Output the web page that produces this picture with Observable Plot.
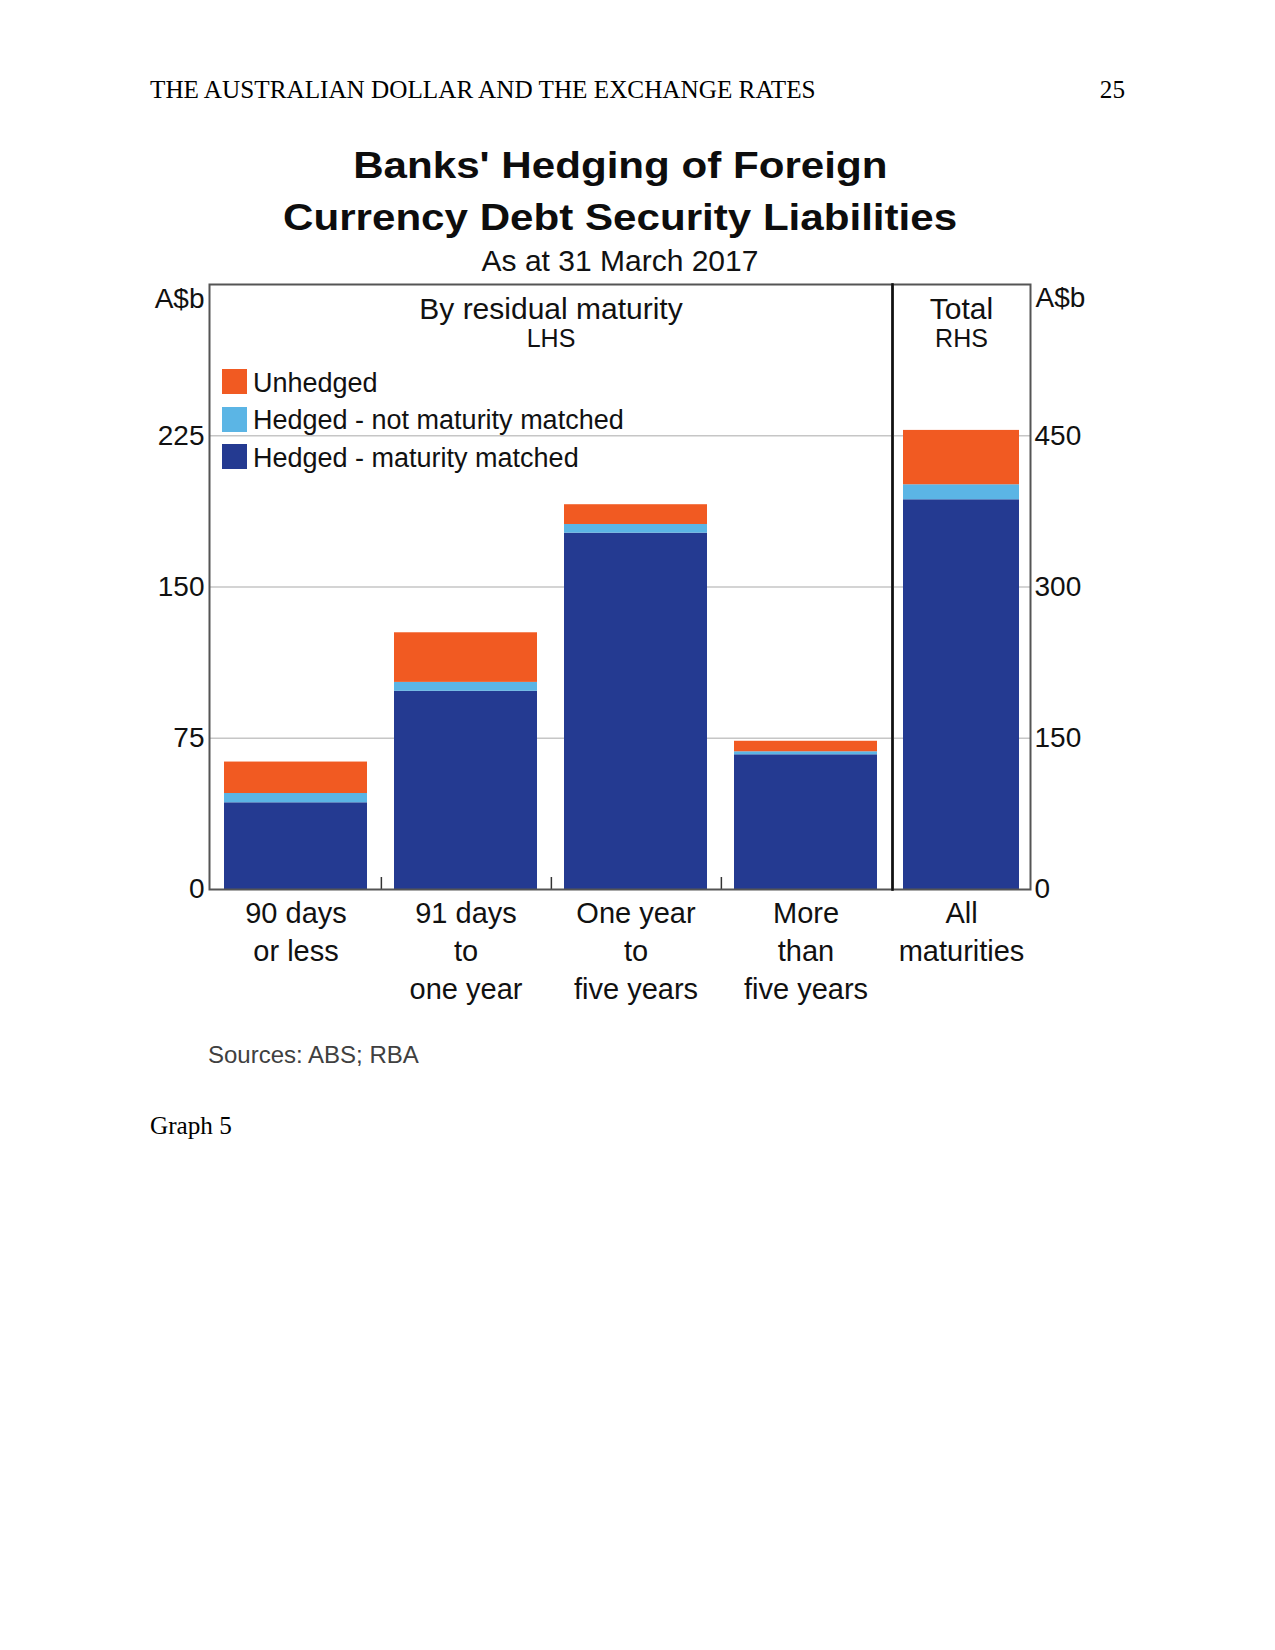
<!DOCTYPE html>
<html>
<head>
<meta charset="utf-8">
<script src="https://cdn.jsdelivr.net/npm/d3@7"></script>
<script src="https://cdn.jsdelivr.net/npm/@observablehq/plot@0.6"></script>
<style>
  html, body { margin: 0; padding: 0; background: #fff; }
  #page { position: relative; width: 1275px; height: 1650px; background: #fff; overflow: hidden; }
  .abs { position: absolute; white-space: nowrap; }
  .serif { font-family: "Liberation Serif", "Times New Roman", serif; font-size: 25.2px; line-height: 25px; color: #000; }
  .sans { font-family: "Liberation Sans", Arial, sans-serif; color: #111; }
  .title { left: 140px; width: 960px; text-align: center; font-family: "Liberation Sans", Arial, sans-serif; font-weight: bold; font-size: 36px; line-height: 36px; color: #0d0d0d; }
  .title span { display: inline-block; transform: scaleX(1.17); transform-origin: center; }
  .sub { left: 140px; width: 960px; text-align: center; font-family: "Liberation Sans", Arial, sans-serif; font-size: 30px; line-height: 30px; color: #111; }
  .plotbox { position: absolute; top: 240px; }
  .legrow { position: absolute; left: 222px; height: 26px; }
  .legsw { position: absolute; left: 0; top: 0; width: 25px; height: 25px; }
  .legtx { position: absolute; left: 31px; font-family: "Liberation Sans", Arial, sans-serif; font-size: 27px; line-height: 27px; color: #111; white-space: nowrap; }
</style>
</head>
<body>
<div id="page">
  <div class="abs serif" style="left:150px; top:77px;">THE AUSTRALIAN DOLLAR AND THE EXCHANGE RATES</div>
  <div class="abs serif" style="right:150px; top:77px;">25</div>
  <div class="abs title" style="top:148px;"><span>Banks' Hedging of Foreign</span></div>
  <div class="abs title" style="top:200px;"><span>Currency Debt Security Liabilities</span></div>
  <div class="abs sub" style="top:246px;">As at 31 March 2017</div>
  <div id="left" class="plotbox" style="left:140px;"></div>
  <div id="right" class="plotbox" style="left:884px;"></div>
  <div id="legend"></div>
  <div class="abs sans" style="left:208px; top:1043px; font-size:24px; line-height:24px; color:#404040;">Sources: ABS; RBA</div>
  <div class="abs serif" style="left:150px; top:1113px;">Graph 5</div>
</div>
<script>
// ---------- data ----------
const categories = ["90 days\nor less", "91 days\nto\none year", "One year\nto\nfive years", "More\nthan\nfive years"];
const matched    = [43.0, 98.3, 176.7, 66.8];
const notMatched = [4.6, 4.4, 4.3, 1.5];
const unhedged   = [15.6, 24.6, 9.8, 5.2];

const totalCategory   = ["All\nmaturities"];
const totalMatched    = [386.5];
const totalNotMatched = [14.9];
const totalUnhedged   = [53.9];

const seriesNames  = ["Hedged - maturity matched", "Hedged - not maturity matched", "Unhedged"];
const seriesColors = ["#243a91", "#5bb5e5", "#f15a22"];

const lhsTicks = [0, 75, 150, 225];
const rhsTicks = [0, 150, 300, 450];
const lhsGrid  = [75, 150, 225];
const rhsGrid  = [150, 300, 450];

// ---------- build tables ----------
function longTable(cats, a, b, c) {
  const out = [];
  cats.forEach((cat, i) => {
    out.push({cat, series: seriesNames[0], value: a[i]});
    out.push({cat, series: seriesNames[1], value: b[i]});
    out.push({cat, series: seriesNames[2], value: c[i]});
  });
  return out;
}
const leftData  = longTable(categories, matched, notMatched, unhedged);
const rightData = longTable(totalCategory, totalMatched, totalNotMatched, totalUnhedged);

// ---------- layout ----------
const H = 780, MT = 44, MB = 131;
const frameH = H - MT - MB;
const tickPx = 12;
const leftW = 760, leftML = 69, leftMR = 8;
const leftStep = (leftW - leftML - leftMR) / categories.length;
const rightW = 216, rightML = 8, rightMR = 70;

const font = '"Liberation Sans", Arial, sans-serif';
const baseStyle = {fontFamily: font, fontSize: "28px", color: "#111", background: "transparent", overflow: "visible"};
const colorScale = {domain: seriesNames, range: seriesColors};

const leftPlot = Plot.plot({
  width: leftW, height: H,
  marginTop: MT, marginBottom: MB, marginLeft: leftML, marginRight: leftMR,
  style: baseStyle,
  x: {domain: categories, axis: null, paddingInner: 0.16, paddingOuter: 0.08},
  y: {domain: [0, 300]},
  color: colorScale,
  marks: [
    Plot.gridY(lhsGrid, {stroke: "#c6c6c6", strokeOpacity: 1, strokeWidth: 1.5}),
    Plot.barY(leftData, {x: "cat", y: "value", fill: "series"}),
    Plot.ruleX(categories.slice(0, -1), {x: d => d, y1: 0, y2: tickPx / frameH * 300, dx: leftStep / 2, stroke: "#333", strokeWidth: 1.5}),
    Plot.frame({stroke: "#555", strokeWidth: 2}),
    Plot.axisY({ticks: lhsTicks, tickSize: 0, tickPadding: 5, label: null, fontSize: 28}),
    Plot.text(["A$b"], {text: d => d, frameAnchor: "top-left", lineAnchor: "middle", textAnchor: "end", dx: -5, dy: 15, fontSize: 28}),
    Plot.text(["By residual maturity"], {text: d => d, frameAnchor: "top", lineAnchor: "middle", dy: 25, fontSize: 30}),
    Plot.text(["LHS"], {text: d => d, frameAnchor: "top", lineAnchor: "middle", dy: 54, fontSize: 25}),
    Plot.text(categories, {x: d => d, text: d => d, frameAnchor: "bottom", lineAnchor: "top", dy: 7, fontSize: 29, lineHeight: 38 / 29})
  ]
});
document.getElementById("left").appendChild(leftPlot);

const rightPlot = Plot.plot({
  width: rightW, height: H,
  marginTop: MT, marginBottom: MB, marginLeft: rightML, marginRight: rightMR,
  style: baseStyle,
  x: {domain: totalCategory, axis: null, paddingInner: 0.16, paddingOuter: 0.08},
  y: {domain: [0, 600]},
  color: colorScale,
  marks: [
    Plot.gridY(rhsGrid, {stroke: "#c6c6c6", strokeOpacity: 1, strokeWidth: 1.5}),
    Plot.barY(rightData, {x: "cat", y: "value", fill: "series"}),
    Plot.frame({stroke: "#555", strokeWidth: 2}),
    Plot.frame({anchor: "left", stroke: "#111", strokeWidth: 2.5}),
    Plot.axisY({anchor: "right", ticks: rhsTicks, tickSize: 0, tickPadding: 4, label: null, fontSize: 28}),
    Plot.text(["A$b"], {text: d => d, frameAnchor: "top-right", lineAnchor: "middle", textAnchor: "start", dx: 5, dy: 14, fontSize: 28}),
    Plot.text(["Total"], {text: d => d, frameAnchor: "top", lineAnchor: "middle", dy: 25, fontSize: 30}),
    Plot.text(["RHS"], {text: d => d, frameAnchor: "top", lineAnchor: "middle", dy: 54, fontSize: 25}),
    Plot.text(totalCategory, {x: d => d, text: d => d, frameAnchor: "bottom", lineAnchor: "top", dy: 7, fontSize: 29, lineHeight: 38 / 29})
  ]
});
document.getElementById("right").appendChild(rightPlot);

// ---------- legend (top to bottom: reverse of stack order) ----------
const legend = document.getElementById("legend");
const legendTop = 369, legendGap = 37.5;
seriesNames.slice().reverse().forEach((name, i) => {
  const color = seriesColors[seriesNames.indexOf(name)];
  const row = document.createElement("div");
  row.className = "legrow";
  row.style.top = (legendTop + i * legendGap) + "px";
  const sw = document.createElement("div");
  sw.className = "legsw";
  sw.style.background = color;
  const tx = document.createElement("div");
  tx.className = "legtx";
  tx.style.top = "0.5px";
  tx.textContent = name;
  row.appendChild(sw); row.appendChild(tx);
  legend.appendChild(row);
});
</script>
</body>
</html>
